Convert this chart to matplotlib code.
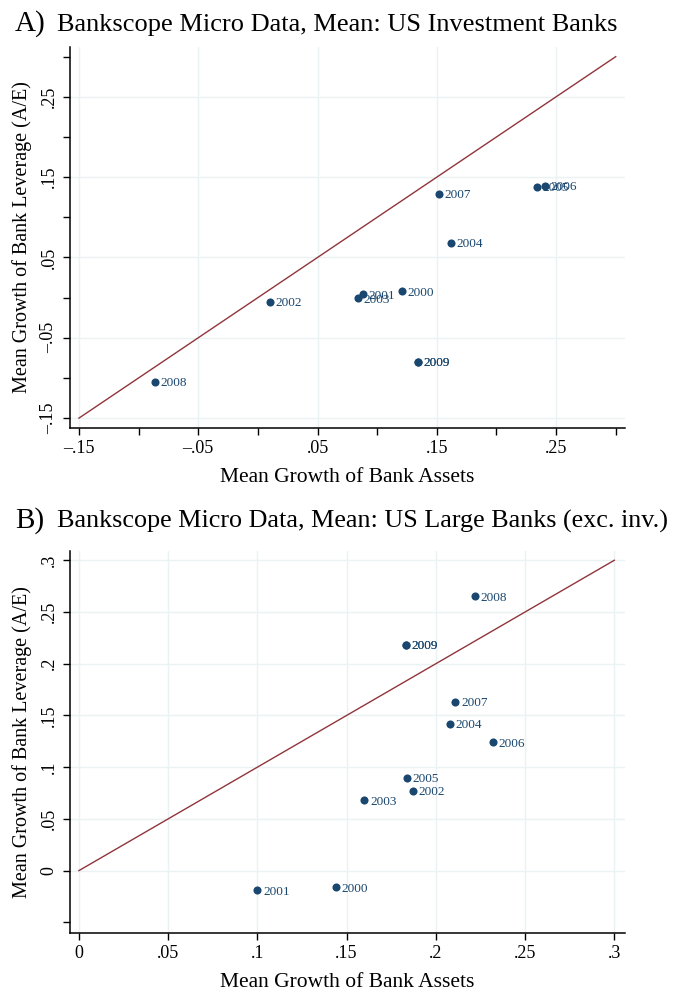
import matplotlib
matplotlib.use("Agg")
import matplotlib.pyplot as plt

plt.rcParams['font.family'] = ['Liberation Serif', 'DejaVu Serif']

# Panel A: US Investment Banks
yearsA = ['2000', '2001', '2002', '2003', '2004', '2005', '2006', '2007', '2008', '2009', '2009']
assetsA = [0.121, 0.088, 0.010, 0.084, 0.162, 0.234, 0.241, 0.152, -0.086, 0.134, 0.134]
leverA = [0.008, 0.004, -0.005, -0.001, 0.068, 0.138, 0.139, 0.129, -0.105, -0.080, -0.080]

# Panel B: US Large Banks (exc. inv.)
yearsB = ['2000', '2001', '2002', '2003', '2004', '2005', '2006', '2007', '2008', '2009', '2009']
assetsB = [0.144, 0.100, 0.187, 0.160, 0.208, 0.184, 0.232, 0.211, 0.222, 0.183, 0.183]
leverB = [-0.016, -0.019, 0.077, 0.068, 0.142, 0.090, 0.124, 0.163, 0.265, 0.218, 0.218]

ticksA_major = [-0.15, -0.05, 0.05, 0.15, 0.25]
ticksA_minor = [-0.1, 0.0, 0.1, 0.2, 0.3]
ticksB_major = [0, 0.05, 0.1, 0.15, 0.2, 0.25, 0.3]

def fmt(v):
    if abs(v) < 1e-12:
        return '0'
    s = ('%.2f' % abs(v)).rstrip('0').lstrip('0')
    return ('\u2013' if v < 0 else '') + s

NAVY = '#1a476f'
MAROON = '#90353b'
GRID = '#eaf2f3'

fig = plt.figure(figsize=(6.81, 9.92), dpi=100)
fig.patch.set_facecolor('white')

axA = fig.add_axes([0.1028, 0.5688, 0.815, 0.3838])
axB = fig.add_axes([0.1028, 0.0598, 0.815, 0.3848])

def style(ax):
    for s in ['top', 'right']:
        ax.spines[s].set_visible(False)
    for s in ['left', 'bottom']:
        ax.spines[s].set_linewidth(1.1)
        ax.spines[s].set_color('black')
    ax.tick_params(which='both', direction='out', length=5, width=1, labelsize=13, pad=4)
    ax.grid(True, which='major', color=GRID, linewidth=1.0)
    ax.set_axisbelow(True)
    ax.set_xlabel('Mean Growth of Bank Assets', fontsize=15.5, labelpad=8)
    ax.set_ylabel('Mean Growth of Bank Leverage (A/E)', fontsize=14.5, labelpad=6)
    for lab in ax.get_yticklabels():
        lab.set_rotation(90)
        lab.set_va('center')

def points(ax, xs, ys, yrs):
    ax.scatter(xs, ys, s=34, color=NAVY, zorder=3, linewidths=0)
    for x, y, t in zip(xs, ys, yrs):
        ax.annotate(t, (x, y), xytext=(4, -1), textcoords='offset points',
                    fontsize=9.5, color=NAVY, va='center', ha='left', zorder=4)

# Panel A
axA.plot([-0.15, 0.3], [-0.15, 0.3], color=MAROON, linewidth=1.0, zorder=2)
points(axA, assetsA, leverA, yearsA)
axA.set_xlim(-0.1575, 0.3078)
axA.set_ylim(-0.162, 0.312)
axA.set_xticks(ticksA_major)
axA.set_xticklabels([fmt(v) for v in ticksA_major])
axA.set_xticks(ticksA_minor, minor=True)
axA.set_yticks(ticksA_major)
axA.set_yticklabels([fmt(v) for v in ticksA_major])
axA.set_yticks(ticksA_minor, minor=True)
style(axA)

# Panel B
axB.plot([0, 0.3], [0, 0.3], color=MAROON, linewidth=1.0, zorder=2)
points(axB, assetsB, leverB, yearsB)
axB.set_xlim(-0.005, 0.306)
axB.set_ylim(-0.060, 0.309)
axB.set_xticks(ticksB_major)
axB.set_xticklabels([fmt(v) for v in ticksB_major])
axB.set_yticks(ticksB_major)
axB.set_yticklabels([fmt(v) for v in ticksB_major])
axB.set_yticks([-0.05], minor=True)
style(axB)

# Titles
fig.text(15 / 681, 1 - 31 / 992, 'A)', fontsize=21, ha='left', va='baseline')
fig.text(57 / 681, 1 - 31 / 992, 'Bankscope Micro Data, Mean: US Investment Banks',
         fontsize=19, ha='left', va='baseline')
fig.text(15 / 681, 1 - 528 / 992, 'B)', fontsize=21, ha='left', va='baseline')
fig.text(57 / 681, 1 - 528 / 992, 'Bankscope Micro Data, Mean: US Large Banks (exc. inv.)',
         fontsize=18.8, ha='left', va='baseline')

fig.savefig('out.png', dpi=100)
